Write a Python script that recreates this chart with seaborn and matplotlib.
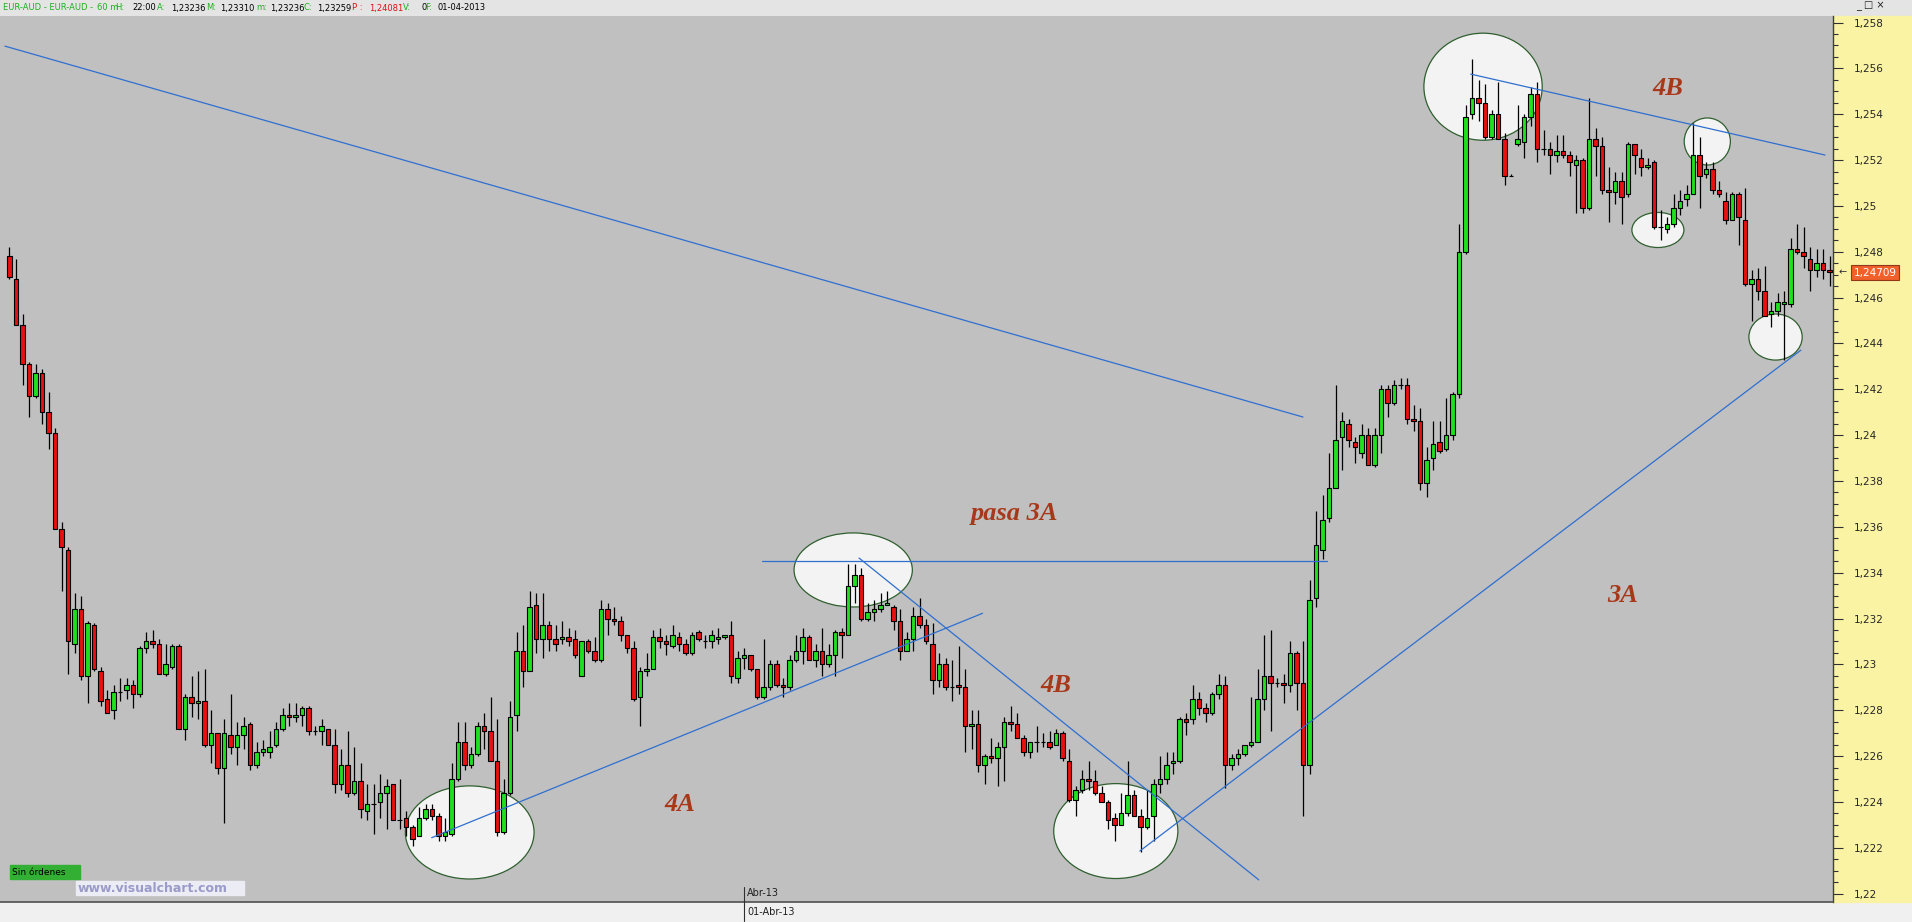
import numpy as np
import pandas as pd
import matplotlib
matplotlib.use("Agg")
import matplotlib.pyplot as plt
from matplotlib.patches import Ellipse, Rectangle
from matplotlib.ticker import MultipleLocator, FuncFormatter
from matplotlib import font_manager
import seaborn as sns

sns.set_style("white")
plt.rcParams['font.family'] = ['DejaVu Sans']

# EUR-AUD 60m candles
opens = [1.2478, 1.2468, 1.2448, 1.2431, 1.2417, 1.2427, 1.2410, 1.2401, 1.2359, 1.2350,
         1.2309, 1.2324, 1.2295, 1.2317, 1.2297, 1.2285, 1.2280, 1.2288, 1.2289, 1.2291,
         1.2287, 1.2307, 1.2310, 1.2309, 1.2296, 1.2299, 1.2308, 1.2272, 1.2286, 1.2283,
         1.2284, 1.2265, 1.2270, 1.2255, 1.2269, 1.2264, 1.2269, 1.2274, 1.2256, 1.2262,
         1.2262, 1.2265, 1.2272, 1.2278, 1.2277, 1.2278, 1.2281, 1.2271, 1.2271, 1.2272,
         1.2265, 1.2248, 1.2256, 1.2244, 1.2249, 1.2236, 1.2239, 1.2240, 1.2244, 1.2248,
         1.2232, 1.2233, 1.2229, 1.2225, 1.2233, 1.2237, 1.2234, 1.2225, 1.2226, 1.2250,
         1.2266, 1.2256, 1.2261, 1.2273, 1.2271, 1.2258, 1.2227, 1.2244, 1.2278, 1.2306,
         1.2297, 1.2326, 1.2311, 1.2317, 1.2311, 1.2311, 1.2312, 1.2311, 1.2295, 1.2310,
         1.2306, 1.2302, 1.2324, 1.2320, 1.2319, 1.2313, 1.2307, 1.2286, 1.2297, 1.2298,
         1.2312, 1.2310, 1.2308, 1.2312, 1.2309, 1.2305, 1.2314, 1.2310, 1.2310, 1.2311,
         1.2312, 1.2313, 1.2294, 1.2303, 1.2304, 1.2298, 1.2286, 1.2290, 1.2300, 1.2291,
         1.2290, 1.2302, 1.2306, 1.2312, 1.2302, 1.2306, 1.2300, 1.2304, 1.2314, 1.2313,
         1.2334, 1.2339, 1.2320, 1.2323, 1.2324, 1.2326, 1.2325, 1.2319, 1.2306, 1.2311,
         1.2321, 1.2317, 1.2309, 1.2293, 1.2300, 1.2290, 1.2291, 1.2290, 1.2273, 1.2274,
         1.2256, 1.2260, 1.2259, 1.2264, 1.2275, 1.2274, 1.2268, 1.2262, 1.2266, 1.2266,
         1.2266, 1.2265, 1.2270, 1.2258, 1.2241, 1.2245, 1.2250, 1.2249, 1.2244, 1.2240,
         1.2233, 1.2230, 1.2235, 1.2243, 1.2234, 1.2229, 1.2234, 1.2248, 1.2250, 1.2257,
         1.2258, 1.2276, 1.2276, 1.2285, 1.2281, 1.2279, 1.2287, 1.2291, 1.2256, 1.2259,
         1.2261, 1.2265, 1.2266, 1.2285, 1.2295, 1.2292, 1.2292, 1.2291, 1.2305, 1.2292,
         1.2256, 1.2329, 1.2350, 1.2364, 1.2377, 1.2399, 1.2405, 1.2397, 1.2392, 1.2400,
         1.2387, 1.2400, 1.2420, 1.2414, 1.2422, 1.2422, 1.2407, 1.2406, 1.2379, 1.2390,
         1.2397, 1.2394, 1.2400, 1.2418, 1.2480, 1.2540, 1.2547, 1.2545, 1.2530, 1.2540,
         1.2529, 1.2513, 1.2527, 1.2528, 1.2539, 1.2549, 1.2525, 1.2525, 1.2522, 1.2524,
         1.2522, 1.2518, 1.2520, 1.2499, 1.2529, 1.2526, 1.2507, 1.2506, 1.2511, 1.2505,
         1.2527, 1.2521, 1.2517, 1.2519, 1.2491, 1.2490, 1.2492, 1.2499, 1.2503, 1.2505,
         1.2522, 1.2514, 1.2516, 1.2507, 1.2502, 1.2494, 1.2505, 1.2494, 1.2466, 1.2468,
         1.2463, 1.2453, 1.2454, 1.2457, 1.2457, 1.2481, 1.2480, 1.2477, 1.2472, 1.2475,
         1.2472]
highs = [1.2482, 1.2477, 1.2453, 1.2432, 1.2431, 1.2429, 1.2419, 1.2403, 1.2362, 1.2351,
         1.2331, 1.2330, 1.2319, 1.2318, 1.2299, 1.2289, 1.2291, 1.2294, 1.2294, 1.2293,
         1.2308, 1.2314, 1.2315, 1.2311, 1.2309, 1.2309, 1.2309, 1.2287, 1.2295, 1.2297,
         1.2298, 1.2280, 1.2270, 1.2276, 1.2287, 1.2275, 1.2277, 1.2275, 1.2266, 1.2267,
         1.2271, 1.2275, 1.2281, 1.2283, 1.2283, 1.2282, 1.2282, 1.2273, 1.2276, 1.2272,
         1.2272, 1.2263, 1.2271, 1.2264, 1.2257, 1.2248, 1.2248, 1.2252, 1.2250, 1.2248,
         1.2250, 1.2236, 1.2230, 1.2238, 1.2239, 1.2239, 1.2235, 1.2233, 1.2257, 1.2275,
         1.2275, 1.2264, 1.2275, 1.2279, 1.2286, 1.2276, 1.2250, 1.2284, 1.2314, 1.2317,
         1.2332, 1.2331, 1.2331, 1.2319, 1.2317, 1.2319, 1.2316, 1.2315, 1.2310, 1.2311,
         1.2312, 1.2328, 1.2327, 1.2325, 1.2321, 1.2313, 1.2310, 1.2299, 1.2305, 1.2315,
         1.2316, 1.2313, 1.2317, 1.2314, 1.2311, 1.2314, 1.2315, 1.2313, 1.2315, 1.2316,
         1.2313, 1.2319, 1.2306, 1.2307, 1.2304, 1.2298, 1.2311, 1.2302, 1.2302, 1.2294,
         1.2304, 1.2313, 1.2316, 1.2313, 1.2309, 1.2316, 1.2309, 1.2315, 1.2316, 1.2344,
         1.2344, 1.2342, 1.2327, 1.2328, 1.2331, 1.2332, 1.2326, 1.2324, 1.2314, 1.2325,
         1.2329, 1.2320, 1.2318, 1.2305, 1.2303, 1.2302, 1.2308, 1.2298, 1.2280, 1.2280,
         1.2261, 1.2268, 1.2266, 1.2277, 1.2282, 1.2279, 1.2269, 1.2266, 1.2273, 1.2270,
         1.2271, 1.2272, 1.2271, 1.2263, 1.2247, 1.2254, 1.2258, 1.2254, 1.2247, 1.2241,
         1.2235, 1.2244, 1.2258, 1.2245, 1.2237, 1.2245, 1.2250, 1.2260, 1.2262, 1.2262,
         1.2277, 1.2279, 1.2291, 1.2288, 1.2283, 1.2288, 1.2296, 1.2295, 1.2261, 1.2263,
         1.2265, 1.2286, 1.2298, 1.2313, 1.2315, 1.2294, 1.2296, 1.2310, 1.2306, 1.2310,
         1.2337, 1.2367, 1.2374, 1.2392, 1.2422, 1.2410, 1.2407, 1.2399, 1.2405, 1.2403,
         1.2403, 1.2422, 1.2422, 1.2424, 1.2425, 1.2425, 1.2413, 1.2412, 1.2395, 1.2406,
         1.2406, 1.2416, 1.2419, 1.2492, 1.2544, 1.2564, 1.2555, 1.2553, 1.2542, 1.2554,
         1.2532, 1.2514, 1.2544, 1.2540, 1.2552, 1.2554, 1.2533, 1.2528, 1.2531, 1.2531,
         1.2524, 1.2522, 1.2521, 1.2547, 1.2534, 1.2530, 1.2517, 1.2515, 1.2515, 1.2528,
         1.2527, 1.2525, 1.2521, 1.2520, 1.2498, 1.2495, 1.2505, 1.2507, 1.2509, 1.2536,
         1.2530, 1.2519, 1.2519, 1.2511, 1.2506, 1.2506, 1.2506, 1.2508, 1.2472, 1.2473,
         1.2474, 1.2458, 1.2462, 1.2463, 1.2486, 1.2492, 1.2491, 1.2482, 1.2481, 1.2481,
         1.2478]
lows = [1.2468, 1.2448, 1.2422, 1.2408, 1.2416, 1.2405, 1.2394, 1.2359, 1.2332, 1.2296,
        1.2305, 1.2293, 1.2283, 1.2297, 1.2282, 1.2279, 1.2276, 1.2284, 1.2285, 1.2281,
        1.2286, 1.2305, 1.2307, 1.2296, 1.2295, 1.2298, 1.2272, 1.2267, 1.2277, 1.2276,
        1.2264, 1.2257, 1.2252, 1.2231, 1.2261, 1.2256, 1.2263, 1.2254, 1.2255, 1.2260,
        1.2259, 1.2264, 1.2271, 1.2273, 1.2275, 1.2273, 1.2269, 1.2269, 1.2265, 1.2265,
        1.2244, 1.2245, 1.2242, 1.2243, 1.2233, 1.2232, 1.2226, 1.2233, 1.2228, 1.2232,
        1.2228, 1.2225, 1.2221, 1.2225, 1.2232, 1.2232, 1.2223, 1.2223, 1.2225, 1.2249,
        1.2254, 1.2255, 1.2260, 1.2263, 1.2258, 1.2225, 1.2226, 1.2243, 1.2271, 1.2290,
        1.2297, 1.2305, 1.2303, 1.2306, 1.2306, 1.2309, 1.2308, 1.2303, 1.2295, 1.2305,
        1.2301, 1.2301, 1.2313, 1.2317, 1.2310, 1.2305, 1.2284, 1.2273, 1.2295, 1.2298,
        1.2307, 1.2304, 1.2307, 1.2306, 1.2304, 1.2304, 1.2310, 1.2307, 1.2307, 1.2309,
        1.2311, 1.2292, 1.2292, 1.2298, 1.2297, 1.2285, 1.2285, 1.2289, 1.2290, 1.2286,
        1.2289, 1.2301, 1.2300, 1.2302, 1.2299, 1.2295, 1.2299, 1.2295, 1.2303, 1.2313,
        1.2327, 1.2319, 1.2319, 1.2319, 1.2323, 1.2326, 1.2315, 1.2302, 1.2306, 1.2306,
        1.2316, 1.2309, 1.2287, 1.2290, 1.2289, 1.2284, 1.2287, 1.2262, 1.2263, 1.2253,
        1.2248, 1.2257, 1.2247, 1.2249, 1.2271, 1.2268, 1.2260, 1.2259, 1.2262, 1.2264,
        1.2263, 1.2265, 1.2258, 1.2240, 1.2234, 1.2244, 1.2245, 1.2243, 1.2240, 1.2228,
        1.2223, 1.2230, 1.2234, 1.2234, 1.2218, 1.2228, 1.2223, 1.2244, 1.2248, 1.2252,
        1.2257, 1.2269, 1.2274, 1.2278, 1.2275, 1.2278, 1.2285, 1.2246, 1.2254, 1.2256,
        1.2260, 1.2264, 1.2266, 1.2280, 1.2271, 1.2290, 1.2283, 1.2288, 1.2280, 1.2234,
        1.2252, 1.2325, 1.2346, 1.2362, 1.2377, 1.2385, 1.2395, 1.2388, 1.2390, 1.2387,
        1.2386, 1.2392, 1.2408, 1.2413, 1.2420, 1.2405, 1.2402, 1.2376, 1.2373, 1.2385,
        1.2392, 1.2393, 1.2398, 1.2416, 1.2479, 1.2538, 1.2537, 1.2529, 1.2529, 1.2529,
        1.2509, 1.2513, 1.2526, 1.2521, 1.2535, 1.2519, 1.2522, 1.2514, 1.2519, 1.2521,
        1.2513, 1.2497, 1.2497, 1.2498, 1.2513, 1.2505, 1.2493, 1.2501, 1.2492, 1.2504,
        1.2514, 1.2513, 1.2516, 1.2490, 1.2485, 1.2488, 1.2491, 1.2496, 1.2500, 1.2505,
        1.2499, 1.2512, 1.2505, 1.2504, 1.2492, 1.2494, 1.2483, 1.2465, 1.2450, 1.2459,
        1.2452, 1.2447, 1.2452, 1.2433, 1.2456, 1.2479, 1.2473, 1.2463, 1.2469, 1.2468,
        1.2465]
closes = [1.2469, 1.2448, 1.2431, 1.2417, 1.2427, 1.2410, 1.2401, 1.2359, 1.2351, 1.2310,
          1.2324, 1.2295, 1.2318, 1.2298, 1.2284, 1.2279, 1.2288, 1.2288, 1.2291, 1.2287,
          1.2307, 1.2310, 1.2309, 1.2296, 1.2300, 1.2308, 1.2272, 1.2286, 1.2283, 1.2284,
          1.2265, 1.2270, 1.2255, 1.2270, 1.2264, 1.2269, 1.2273, 1.2256, 1.2262, 1.2263,
          1.2264, 1.2272, 1.2278, 1.2277, 1.2278, 1.2281, 1.2271, 1.2271, 1.2273, 1.2265,
          1.2248, 1.2256, 1.2244, 1.2249, 1.2237, 1.2239, 1.2239, 1.2244, 1.2247, 1.2232,
          1.2232, 1.2229, 1.2224, 1.2233, 1.2237, 1.2234, 1.2225, 1.2227, 1.2250, 1.2266,
          1.2256, 1.2261, 1.2273, 1.2271, 1.2258, 1.2227, 1.2244, 1.2277, 1.2306, 1.2297,
          1.2325, 1.2311, 1.2317, 1.2311, 1.2309, 1.2312, 1.2310, 1.2304, 1.2310, 1.2306,
          1.2302, 1.2324, 1.2320, 1.2319, 1.2313, 1.2307, 1.2285, 1.2297, 1.2298, 1.2312,
          1.2310, 1.2309, 1.2313, 1.2309, 1.2305, 1.2313, 1.2311, 1.2310, 1.2313, 1.2312,
          1.2313, 1.2295, 1.2303, 1.2304, 1.2298, 1.2286, 1.2290, 1.2300, 1.2291, 1.2290,
          1.2302, 1.2306, 1.2312, 1.2302, 1.2306, 1.2300, 1.2304, 1.2314, 1.2313, 1.2334,
          1.2339, 1.2320, 1.2323, 1.2324, 1.2326, 1.2327, 1.2319, 1.2306, 1.2311, 1.2321,
          1.2317, 1.2310, 1.2293, 1.2300, 1.2290, 1.2290, 1.2290, 1.2273, 1.2274, 1.2256,
          1.2260, 1.2259, 1.2264, 1.2275, 1.2274, 1.2268, 1.2262, 1.2266, 1.2266, 1.2266,
          1.2264, 1.2270, 1.2259, 1.2241, 1.2245, 1.2250, 1.2249, 1.2244, 1.2240, 1.2232,
          1.2230, 1.2235, 1.2243, 1.2234, 1.2229, 1.2233, 1.2248, 1.2250, 1.2256, 1.2258,
          1.2276, 1.2275, 1.2285, 1.2281, 1.2279, 1.2287, 1.2291, 1.2256, 1.2259, 1.2261,
          1.2265, 1.2266, 1.2285, 1.2295, 1.2292, 1.2292, 1.2291, 1.2305, 1.2292, 1.2256,
          1.2328, 1.2352, 1.2363, 1.2377, 1.2398, 1.2406, 1.2398, 1.2395, 1.2400, 1.2387,
          1.2400, 1.2420, 1.2414, 1.2422, 1.2422, 1.2407, 1.2406, 1.2379, 1.2389, 1.2396,
          1.2393, 1.2400, 1.2418, 1.2480, 1.2539, 1.2547, 1.2545, 1.2530, 1.2540, 1.2529,
          1.2513, 1.2513, 1.2529, 1.2539, 1.2549, 1.2525, 1.2525, 1.2522, 1.2524, 1.2522,
          1.2519, 1.2520, 1.2499, 1.2529, 1.2526, 1.2507, 1.2506, 1.2511, 1.2504, 1.2527,
          1.2522, 1.2517, 1.2518, 1.2491, 1.2491, 1.2492, 1.2499, 1.2502, 1.2505, 1.2522,
          1.2513, 1.2516, 1.2507, 1.2505, 1.2494, 1.2505, 1.2495, 1.2466, 1.2468, 1.2463,
          1.2452, 1.2454, 1.2458, 1.2458, 1.2481, 1.2480, 1.2478, 1.2472, 1.2475, 1.2472,
          1.2471]

last_price = 1.24709
date_bar = 113
date_labels = ["Abr-13", "01-Abr-13"]

# hand drawn trend lines: (bar, price) -> (bar, price)
trend_lines = [((-0.7, 1.25697), (199.0, 1.24079)),
               ((115.8, 1.23453), (202.7, 1.23453)),
               ((64.95, 1.22244), (149.7, 1.23223)),
               ((130.7, 1.23464), (192.2, 1.22060)),
               ((173.9, 1.22186), (275.6, 1.24371)),
               ((224.8, 1.25575), (279.3, 1.25222))]

# highlight ellipses: center bar, center price, width (bars), height (price)
circles = [(226.7, 1.2552, 18.2, 0.00467),
           (261.2, 1.25281, 7.1, 0.00205),
           (253.6, 1.24895, 8.0, 0.00153),
           (271.7, 1.24428, 8.2, 0.00201),
           (129.8, 1.23412, 18.2, 0.00323),
           (70.8, 1.22267, 19.8, 0.00406),
           (170.2, 1.22273, 19.1, 0.00414)]

notes = [("4B", 255.2, 1.2551), ("pasa 3A", 154.7, 1.2366), ("4B", 161.0, 1.2291),
         ("3A", 248.1, 1.2330), ("4A", 103.2, 1.2239)]

df = pd.DataFrame({"open": opens, "high": highs, "low": lows, "close": closes})
df["bar"] = np.arange(len(df))
df["up"] = df["close"] >= df["open"]

GREEN = "#1fe01f"
RED = "#e81010"
BLUE = "#2f6fd0"

W, H = 1912, 922
def fx(px):
    return px / W
def fy(py):
    return 1 - py / H

names = {f.name for f in font_manager.fontManager.ttflist}
narrow = "Liberation Sans Narrow" if "Liberation Sans Narrow" in names else "DejaVu Sans"
hdr_size = 7.5 if narrow != "DejaVu Sans" else 6

fig = plt.figure(figsize=(W / 100, H / 100), dpi=100)
fig.patch.set_facecolor("#f0f0f0")
fig.add_artist(Rectangle((0, fy(16)), 1, 16 / H, transform=fig.transFigure,
                         color="#e4e4e4", zorder=-1))
fig.add_artist(Rectangle((fx(1833), fy(902)), (W - 1833) / W, (902 - 16) / H,
                         transform=fig.transFigure, color="#fbf3a4", zorder=-1))

ax = fig.add_axes([0, fy(902), fx(1833), (902 - 16) / H])
ax.set_facecolor("#c0c0c0")

# candles
colors = np.where(df["up"], GREEN, RED)
ax.vlines(df["bar"], df["low"], df["high"], color="black", lw=0.9, zorder=3)
ax.bar(df["bar"], df["close"] - df["open"], bottom=df["open"], width=0.72,
       color=colors, edgecolor="black", linewidth=0.8, zorder=4)

for cx, cy, w, h in circles:
    ax.add_patch(Ellipse((cx, cy), w, h, facecolor="#f3f3f3", edgecolor="#2f5f2f",
                         lw=0.9, zorder=2))

for (x0, y0), (x1, y1) in trend_lines:
    ax.plot([x0, x1], [y0, y1], color=BLUE, lw=0.9, zorder=5)

for s, x, y in notes:
    ax.text(x, y, s, fontsize=19, fontweight="bold", fontstyle="italic",
            family="Liberation Serif", color="#a8381a", ha="center", va="center", zorder=6)

ax.set_xlim(-9.5 / 6.5, (1833 - 9.5) / 6.5)
ax.set_ylim(1.219636, 1.258284)
ax.set_xticks([])
ax.yaxis.tick_right()
ax.yaxis.set_major_locator(MultipleLocator(0.002))
ax.yaxis.set_minor_locator(MultipleLocator(0.0005))
ax.yaxis.set_major_formatter(FuncFormatter(lambda v, p: f"{v:.3f}".rstrip("0").replace(".", ",")))
ax.tick_params(axis="y", which="major", direction="out", length=7, width=0.8,
               color="#303030", labelsize=7.5, pad=8)
ax.tick_params(axis="y", which="minor", direction="out", length=3.5, width=0.8, color="#303030")
for side in ["top", "left"]:
    ax.spines[side].set_visible(False)
ax.spines["right"].set_color("#404040")
ax.spines["right"].set_linewidth(1.0)
ax.spines["bottom"].set_color("#505050")
ax.spines["bottom"].set_linewidth(1.2)

# date marker
xt = ax.get_xaxis_transform()
ax.plot([date_bar, date_bar], [-0.021, 0.017], transform=xt, color="#303030",
        lw=0.8, clip_on=False, zorder=6)
ax.text(date_bar + 0.45, 0.0102, date_labels[0], transform=xt, fontsize=7,
        va="center", ha="left", color="#202020")
ax.text(date_bar + 0.45, -0.0113, date_labels[1], transform=xt, fontsize=7,
        va="center", ha="left", color="#202020", clip_on=False)

# last price label
yt = ax.get_yaxis_transform()
ax.text(1875 / 1833, last_price, f"{last_price:.5f}".replace(".", ","), transform=yt,
        fontsize=7.5, color="white", ha="center", va="center", clip_on=False,
        bbox=dict(boxstyle="square,pad=0.25", fc="#f0602a", ec="#903818", lw=0.8))
ax.text(1843 / 1833, last_price, "←", transform=yt, fontsize=7, color="#303030",
        ha="center", va="center", clip_on=False)

# header line
header = [("EUR-AUD - EUR-AUD -", "#20b020", 3), ("60 m", "#20b020", 97), ("H:", "#20b020", 115),
          ("22:00", "black", 132), ("A:", "#20b020", 157), ("1,23236", "black", 171),
          ("M:", "#20b020", 206), ("1,23310", "black", 220), ("m:", "#20b020", 256),
          ("1,23236", "black", 270), ("C:", "#20b020", 304), ("1,23259", "black", 317),
          ("P :", "#e01010", 352), ("1,24081", "#e01010", 369), ("V:", "#20b020", 403),
          ("0", "black", 421), ("F:", "#20b020", 425), ("01-04-2013", "black", 437)]
for s, c, x in header:
    fig.text(fx(x), fy(8), s, color=c, fontsize=hdr_size, family=[narrow, "DejaVu Sans"],
             va="center", ha="left")
fig.text(fx(1856), fy(6), "_ □ ×", fontsize=7, color="#202020", va="center", ha="left")

# order box and watermark
fig.add_artist(Rectangle((fx(10), fy(879)), 70 / W, 14 / H, transform=fig.transFigure,
                         color="#33b033", zorder=7))
fig.text(fx(12), fy(872), "Sin órdenes", fontsize=6.5, color="black", va="center",
         ha="left", family=[narrow, "DejaVu Sans"], zorder=8)
fig.add_artist(Rectangle((fx(76), fy(895)), 168 / W, 14 / H, transform=fig.transFigure,
                         color="#ececf4", zorder=7))
fig.text(fx(78), fy(888), "www.visualchart.com", fontsize=9, fontweight="bold",
         color="#9a9acb", va="center", ha="left", zorder=8)

fig.savefig("out.png", dpi=100, facecolor=fig.get_facecolor())
